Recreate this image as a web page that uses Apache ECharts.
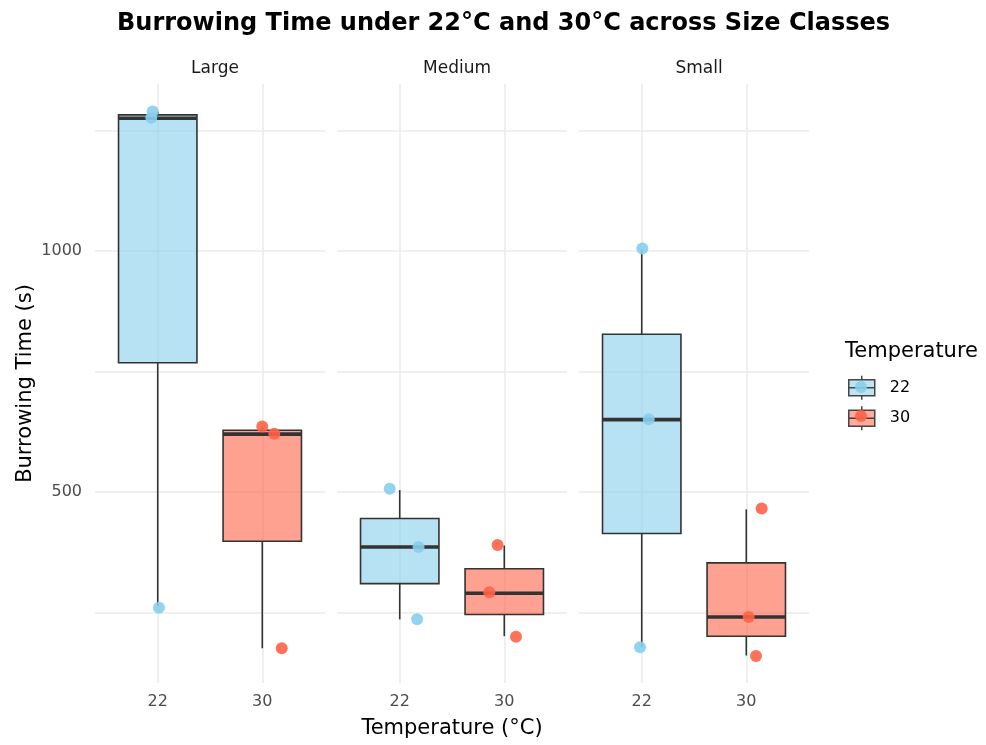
<!DOCTYPE html>
<html>
<head>
<meta charset="utf-8">
<script src="https://cdn.jsdelivr.net/npm/echarts@6/dist/echarts.min.js"></script>
<style>
  html, body { margin: 0; padding: 0; background: #ffffff; }
  #chart { width: 986px; height: 745px; }
</style>
</head>
<body>
<div id="chart"></div>
<script>
// Facets and groups
const sizeClasses = ['Large', 'Medium', 'Small'];
const temperatures = ['22', '30'];

// Box statistics per facet, one row per temperature: [min, Q1, median, Q3, max]
const boxLarge  = [[263, 768, 1275, 1282, 1289], [176, 398, 620, 628, 636]];
const boxMedium = [[236, 310, 386, 445, 504],    [201, 246, 290, 341, 389]];
const boxSmall  = [[178, 414, 650, 827, 1004],   [161, 201, 241, 353, 464]];

// Individual burrowing times per facet, one row per temperature
const pointsLarge  = [[1289, 1276, 260], [636, 621, 176]];
const pointsMedium = [[507, 386, 236],   [390, 292, 200]];
const pointsSmall  = [[1005, 651, 178],  [466, 241, 160]];

// Horizontal jitter of each point around its temperature position
const jitterLarge  = [[-0.048, -0.062, 0.012], [0.0, 0.115, 0.186]];
const jitterMedium = [[-0.096, 0.180, 0.166],  [-0.064, -0.143, 0.112]];
const jitterSmall  = [[0.006, 0.067, -0.016],  [0.147, 0.023, 0.093]];

// Axis breaks
const yGridValues = [250, 500, 750, 1000, 1250];
const yLabelValues = [500, 1000];

const boxes  = [boxLarge, boxMedium, boxSmall];
const points = [pointsLarge, pointsMedium, pointsSmall];
const jitter = [jitterLarge, jitterMedium, jitterSmall];

const FONT = "'DejaVu Sans', Verdana, sans-serif";
const OUTLINE = '#333333';
const GRID_COLOR = '#ebebeb';
const pointColors = ['#87CEEB', '#FF6347'];
const boxFills = ['rgba(135,206,235,0.6)', 'rgba(255,99,71,0.6)'];
const BOX_WIDTH = 0.75;

const PANEL_LEFT = 95, PANEL_STEP = 242, PANEL_W = 230, PANEL_TOP = 84, PANEL_H = 599;

// Box, whiskers and a heavier median bar for one temperature group
function renderBox(params, api) {
  const x = api.value(0);
  const j = Math.round(x) - 1;
  const lo = api.coord([x, api.value(1)]);
  const q1 = api.coord([x, api.value(2)]);
  const md = api.coord([x, api.value(3)]);
  const q3 = api.coord([x, api.value(4)]);
  const hi = api.coord([x, api.value(5)]);
  const half = api.size([BOX_WIDTH, 0])[0] / 2;
  const lineStyle = { stroke: OUTLINE, lineWidth: 1.6 };
  return {
    type: 'group',
    children: [
      { type: 'line', shape: { x1: lo[0], y1: lo[1], x2: q1[0], y2: q1[1] }, style: lineStyle },
      { type: 'line', shape: { x1: q3[0], y1: q3[1], x2: hi[0], y2: hi[1] }, style: lineStyle },
      { type: 'rect', shape: { x: q3[0] - half, y: q3[1], width: 2 * half, height: q1[1] - q3[1] },
        style: { fill: boxFills[j], stroke: OUTLINE, lineWidth: 1.6 } },
      { type: 'line', shape: { x1: md[0] - half, y1: md[1], x2: md[0] + half, y2: md[1] },
        style: { stroke: OUTLINE, lineWidth: 3.6 } }
    ]
  };
}

const grid = [], xAxis = [], yAxis = [], series = [];
const titles = [{
  text: 'Burrowing Time under 22°C and 30°C across Size Classes',
  left: 112, top: 7,
  textStyle: { fontFamily: FONT, fontSize: 24, fontWeight: 'bold', color: '#000000' }
}, {
  text: 'Temperature',
  left: 840, top: 336,
  textStyle: { fontFamily: FONT, fontSize: 21, fontWeight: 'normal', color: '#000000' }
}];

sizeClasses.forEach((name, i) => {
  const left = PANEL_LEFT + i * PANEL_STEP;
  grid.push({ left: left, top: PANEL_TOP, width: PANEL_W, height: PANEL_H, containLabel: false });

  // facet strip label
  titles.push({
    text: name,
    left: left + PANEL_W / 2, top: 55, textAlign: 'center',
    textStyle: { fontFamily: FONT, fontSize: 17, fontWeight: 'normal', color: '#1a1a1a' }
  });

  xAxis.push({
    type: 'value', gridIndex: i, min: 0.4, max: 2.6,
    axisLine: { show: false },
    axisTick: { show: false, customValues: [1, 2] },
    axisLabel: {
      customValues: [1, 2],
      formatter: v => temperatures[Math.round(v) - 1],
      fontFamily: FONT, fontSize: 16, color: '#4d4d4d', margin: 11
    },
    splitLine: { show: true, lineStyle: { color: GRID_COLOR, width: 1.6 } },
    name: i === 1 ? 'Temperature (°C)' : '',
    nameLocation: 'middle', nameGap: 35,
    nameTextStyle: { fontFamily: FONT, fontSize: 21, color: '#000000' }
  });

  yAxis.push({
    type: 'value', gridIndex: i, min: 104, max: 1346,
    axisLine: { show: false },
    axisTick: { show: false, customValues: yGridValues },
    axisLabel: {
      show: i === 0,
      customValues: yLabelValues,
      formatter: v => String(v),
      fontFamily: FONT, fontSize: 16, color: '#4d4d4d', margin: 13
    },
    splitLine: { show: true, lineStyle: { color: GRID_COLOR, width: 1.6 } },
    name: i === 0 ? 'Burrowing Time (s)' : '',
    nameLocation: 'middle', nameGap: 59, nameRotate: 90,
    nameTextStyle: { fontFamily: FONT, fontSize: 21, color: '#000000' }
  });

  series.push({
    type: 'custom', name: 'box-' + name,
    xAxisIndex: i, yAxisIndex: i,
    renderItem: renderBox,
    encode: { x: 0, y: [1, 2, 3, 4, 5] },
    data: boxes[i].map((stats, j) => [j + 1].concat(stats)),
    silent: true, z: 2
  });

  temperatures.forEach((t, j) => {
    series.push({
      type: 'scatter', name: t,
      xAxisIndex: i, yAxisIndex: i,
      symbolSize: 12,
      itemStyle: { color: pointColors[j], opacity: 0.9 },
      data: points[i][j].map((v, k) => [j + 1 + jitter[i][j][k], v]),
      z: 3
    });
  });
});

const keyIcon = 'path://M13,0V4M0,4H26V20H0ZM0,12H26M13,20V24';
const LEGEND_TOP = 370;

const option = {
  backgroundColor: '#ffffff',
  animation: false,
  title: titles,
  grid: grid,
  xAxis: xAxis,
  yAxis: yAxis,
  legend: [{
    // box keys with labels
    orient: 'vertical', left: 843, top: LEGEND_TOP,
    itemWidth: 26, itemHeight: 24, itemGap: 5,
    textStyle: { fontFamily: FONT, fontSize: 16, color: '#000000', padding: [0, 0, 0, 10] },
    data: temperatures.map((t, j) => ({
      name: t, icon: keyIcon,
      itemStyle: { color: boxFills[j], borderColor: OUTLINE, borderWidth: 1.5 }
    })),
    selectedMode: false, z: 5
  }, {
    // point drawn inside each key
    orient: 'vertical', left: 850, top: LEGEND_TOP + 6,
    itemWidth: 12, itemHeight: 12, itemGap: 17,
    formatter: () => '',
    textStyle: { fontSize: 1, padding: 0 },
    data: temperatures.map((t, j) => ({
      name: t, icon: 'circle',
      itemStyle: { color: pointColors[j], borderWidth: 0, opacity: 0.9 }
    })),
    selectedMode: false, z: 6
  }],
  series: series
};

const chart = echarts.init(document.getElementById('chart'), null, { renderer: 'canvas' });
chart.setOption(option);
</script>
</body>
</html>
